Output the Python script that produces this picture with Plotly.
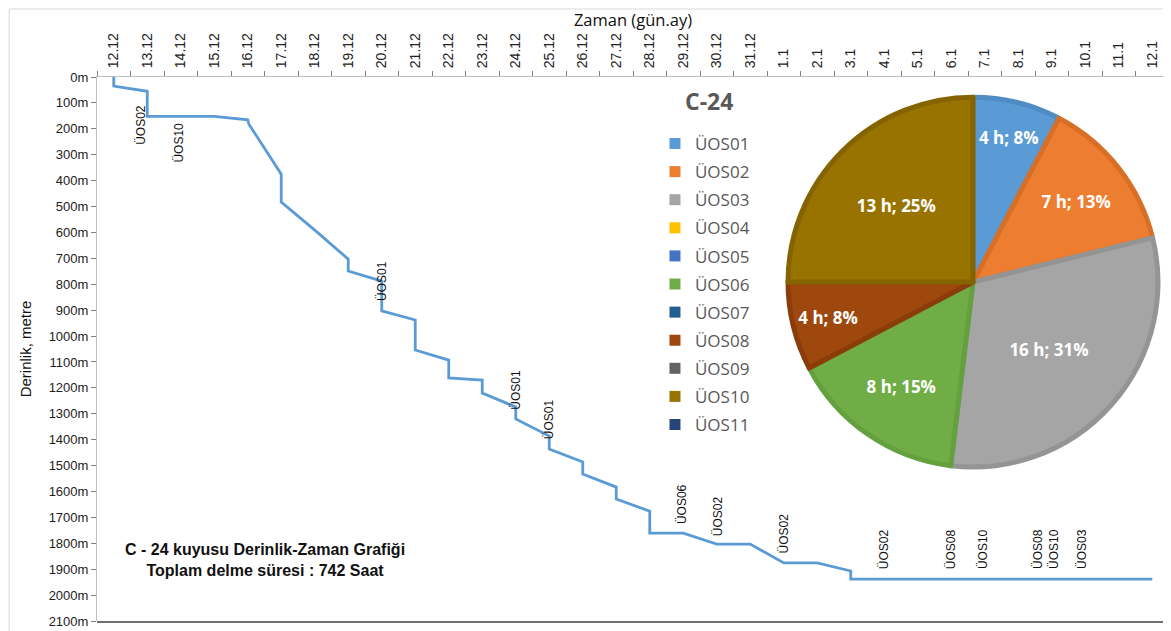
import plotly.graph_objects as go

# Zaman ekseni (gün.ay) etiketleri
day_labels = ["12.12", "13.12", "14.12", "15.12", "16.12", "17.12", "18.12", "19.12",
              "20.12", "21.12", "22.12", "23.12", "24.12", "25.12", "26.12", "27.12",
              "28.12", "29.12", "30.12", "31.12", "1.1", "2.1", "3.1", "4.1", "5.1",
              "6.1", "7.1", "8.1", "9.1", "10.1", "11.1", "12.1"]

# Derinlik-zaman eğrisi (gün indeksi, metre)
days = [0, 0, 1, 1, 3, 4, 4.03, 5, 5, 6, 7, 7, 8, 8, 9, 9, 10, 10, 11, 11, 12, 12,
        13, 13, 14, 14, 15, 15, 16, 16, 17, 18, 19, 20, 21, 22, 22, 31]
depth = [0, 35, 55, 152, 152, 165, 181, 375, 483, 591, 703, 749, 788, 903, 938, 1054,
         1093, 1162, 1170, 1220, 1274, 1320, 1386, 1436, 1486, 1533, 1583, 1629, 1676,
         1761, 1761, 1803, 1803, 1876, 1876, 1907, 1938, 1938]

# ÜOS notları
note_days = [0.81, 1.92, 8.0, 12.0, 13.0, 16.96, 18.04, 20.0, 23.0, 25.0, 25.95, 27.83, 28.9]
note_depth = [185, 253, 788, 1208, 1320, 1649, 1695, 1763, 1822, 1822, 1822, 1822, 1822]
note_text = ["ÜOS02", "ÜOS10", "ÜOS01", "ÜOS01", "ÜOS01", "ÜOS06", "ÜOS02", "ÜOS02",
             "ÜOS02", "ÜOS08", "ÜOS10", "ÜOS08<br>ÜOS10", "ÜOS03"]

# Pasta grafiği (saat)
uos_names = ["ÜOS01", "ÜOS02", "ÜOS03", "ÜOS04", "ÜOS05", "ÜOS06", "ÜOS07", "ÜOS08",
             "ÜOS09", "ÜOS10", "ÜOS11"]
uos_hours = [4, 7, 16, 0, 0, 8, 0, 4, 0, 13, 0]
uos_colors = ["#5B9BD5", "#ED7D31", "#A5A5A5", "#FFC000", "#4472C4", "#70AD47",
              "#255E91", "#9E480E", "#636363", "#997300", "#264478"]
uos_edges = ["#4F8CC4", "#D86F27", "#949494", "#E6AD00", "#3B65B0", "#64A03E",
             "#1F507E", "#8A3D0B", "#555555", "#856400", "#1F3A66"]
edge_widths = [5 if h > 0 else 0 for h in uos_hours]

fig = go.Figure()

fig.add_trace(go.Scatter(
    x=days, y=depth, mode="lines",
    line=dict(color="#5B9BD5", width=2.8),
    showlegend=False, hoverinfo="skip"
))

fig.add_trace(go.Pie(
    labels=uos_names, values=uos_hours,
    marker=dict(colors=uos_colors, line=dict(color=uos_edges, width=edge_widths)),
    sort=False, direction="clockwise", rotation=0,
    texttemplate="%{value} h; %{percent:.0%}",
    textposition="inside", insidetextorientation="horizontal",
    textfont=dict(family="Open Sans", size=17, color="white", weight="bold"),
    domain=dict(x=[0.6446, 0.9897], y=[0.283, 0.963]),
    showlegend=False, hoverinfo="label+value"
))

# lejant girişleri (ÜOS01..ÜOS11)
for name, col in zip(uos_names, uos_colors):
    fig.add_trace(go.Scatter(
        x=[None], y=[None], mode="markers", name=name, legendgroup=name,
        marker=dict(symbol="square", size=11, color=col)
    ))

for xd, yd, t in zip(note_days, note_depth, note_text):
    fig.add_annotation(x=xd, y=yd, text=t, textangle=-90, showarrow=False,
                       font=dict(family="Liberation Sans", size=12, color="#111111"))

fig.add_annotation(
    xref="paper", yref="paper", x=0.157, y=0.112, xanchor="center", yanchor="middle",
    text="<b>C - 24 kuyusu Derinlik-Zaman Grafiği<br>Toplam delme süresi : 742 Saat</b>",
    showarrow=False, align="center",
    font=dict(family="Liberation Sans", size=16, color="#111111")
)
fig.add_annotation(
    xref="paper", yref="paper", x=0.571, y=0.956, xanchor="center", yanchor="middle",
    text="<b>C-24</b>", showarrow=False,
    font=dict(family="Open Sans", size=23, color="#595959")
)

# çerçeve
fig.add_shape(type="line", xref="paper", yref="paper", x0=-0.082, x1=1.0, y0=1.125, y1=1.125,
              line=dict(color="#D9D9D9", width=1))
fig.add_shape(type="line", xref="paper", yref="paper", x0=-0.082, x1=-0.082, y0=-0.03, y1=1.125,
              line=dict(color="#D9D9D9", width=1))
fig.add_shape(type="line", xref="paper", yref="paper", x0=1.0, x1=1.0, y0=-0.002, y1=1.009,
              line=dict(color="#404040", width=1.5))
fig.add_shape(type="line", xref="paper", yref="paper", x0=0, x1=1.0, y0=-0.002, y1=-0.002,
              line=dict(color="#404040", width=1.5))

fig.update_layout(
    template="none",
    width=1163, height=623,
    margin=dict(l=89, r=2, t=69, b=10),
    paper_bgcolor="white", plot_bgcolor="white",
    showlegend=True,
    legend=dict(x=0.5205, y=0.91, xanchor="left", yanchor="top",
                font=dict(family="Open Sans", size=17, color="#595959"),
                tracegroupgap=3, itemwidth=30,
                bgcolor="rgba(0,0,0,0)"),
    xaxis=dict(
        side="top", range=[-0.5, 31.5], showgrid=False, zeroline=False,
        tickmode="array", tickvals=list(range(len(day_labels))), ticktext=day_labels,
        tickangle=-90, ticks="outside", ticklen=5, tickcolor="rgba(0,0,0,0)",
        tickfont=dict(family="Liberation Sans", size=14, color="#222222"),
        minor=dict(ticks="outside", tickmode="linear", tick0=-0.5, dtick=1,
                   ticklen=5, tickcolor="#808080", showgrid=False),
        showline=True, linecolor="#BFBFBF", linewidth=1,
        title=dict(text="Zaman (gün.ay)", standoff=2,
                   font=dict(family="Open Sans", size=16.5, color="#111111")),
        automargin=False
    ),
    yaxis=dict(
        range=[2100, 0], showgrid=False, zeroline=False,
        tickmode="linear", tick0=0, dtick=100, ticksuffix="m",
        ticks="outside", ticklen=5, tickcolor="#808080",
        tickfont=dict(family="Liberation Sans", size=13, color="#222222"),
        showline=True, linecolor="#BFBFBF", linewidth=1,
        title=dict(text="Derinlik, metre", standoff=13,
                   font=dict(family="Liberation Sans", size=15, color="#111111")),
        automargin=False
    )
)

fig.write_html("out.html")
